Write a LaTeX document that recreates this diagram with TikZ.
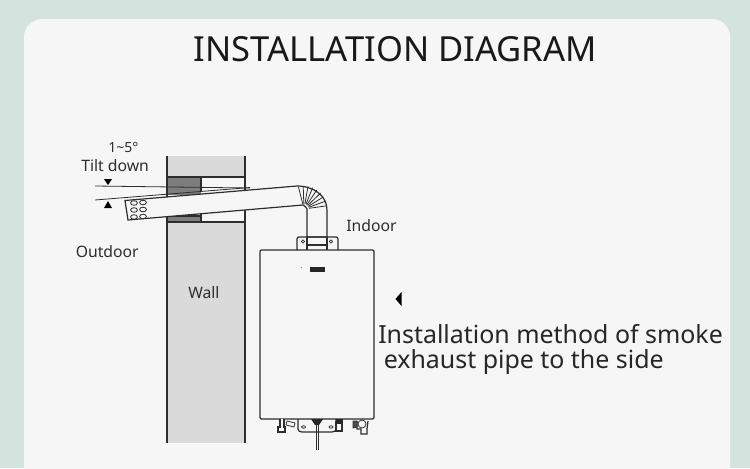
\documentclass[tikz,border=0pt]{standalone}
\usepackage{fontspec}
\setmainfont{Noto Sans}
\definecolor{mintbg}{RGB}{211,228,222}
\definecolor{cardbg}{RGB}{246,246,246}
\definecolor{walllight}{RGB}{218,218,218}
\definecolor{walldark}{RGB}{125,125,125}
\definecolor{inkline}{RGB}{45,45,45}
\tikzset{
	linelabel/.style={anchor=north west,inner sep=0.75pt,text=inkline,font=\fontsize{11.8}{13}\selectfont},
	biglabel/.style={anchor=north west,inner sep=0.75pt,text=black!85,font=\fontsize{18.7}{20}\selectfont},
	part/.style={draw=inkline,line width=0.9pt},
	thinpart/.style={draw=inkline,line width=0.6pt}
}
\begin{document}
\begin{tikzpicture}[x=0.75pt,y=0.75pt,yscale=-1,xscale=1]
	\useasboundingbox (0,0) rectangle (750,468);
	\fill [mintbg] (0,0) rectangle (750,468);
	\fill [cardbg] (24,480) -- (24,37) .. controls (24,27) and (32,19) .. (42,19) -- (712,19) .. controls (722,19) and (730,27) .. (730,37) -- (730,480) -- cycle;
	% wall
	\fill [walllight] (167,156) rectangle (245,177);
	\fill [walllight] (167,222) rectangle (245,443);
	\fill [walldark] (167,177) rectangle (201,195);
	\fill [walldark] (167,216) rectangle (201,222);
	\draw [part] (167,156) -- (167,443) (245,156) -- (245,443);
	\draw [part] (167,177) -- (245,177) (167,222) -- (245,222) (201,177) -- (201,192) (201,214) -- (201,222) (167,216) -- (201,216);
	% tilt lines
	\draw [thinpart] (95,186) -- (250,188);
	\draw [thinpart] (95,200) -- (250,187.5);
	\fill [black] (104,179) -- (112,179) -- (108,185) -- cycle;
	\fill [black] (104,208) -- (112,208) -- (108,201) -- cycle;
	% pipe
	\draw [part,fill=cardbg] (125,200.5) -- (297,186) .. controls (314,186) and (327,196) .. (327,210) -- (327,237) -- (307,237) -- (307,209) .. controls (306,207) and (305,206) .. (303,205) -- (128,220) -- cycle;
	\foreach \a in {8,20,...,104} {
		\draw [thinpart] ({304+5*cos(\a)},{209-5*sin(\a)}) -- ({304+23*cos(\a)},{209-23*sin(\a)});
	}
	\foreach \hx/\hy in {134/203,143/202.5,134/210,143/209.5,134/217,143/216.5} {
		\draw [thinpart] (\hx,\hy) ellipse (3.4 and 2.3);
	}
	% bracket
	\draw [part] (297,250) -- (297,239) .. controls (297,237.5) and (298,237) .. (299,237) -- (336,237) .. controls (337,237) and (338,237.5) .. (338,239) -- (338,250);
	\draw [part] (307,237) -- (307,250) (327,237) -- (327,250) (307,245) -- (327,245);
	\draw [thinpart] (303,241.5) circle (1.6) (331,241.5) circle (1.6);
	% heater
	\draw [part,rounded corners=1pt] (260,250) rectangle (374,419);
	\fill [black!85] (310,267) rectangle (325,272);
	\fill [black!45] (300.5,267) rectangle (301.5,268);
	\fill [black] (401.5,292) -- (401.5,306) -- (395.5,299) -- cycle;
	% fittings
	\draw [part] (298,419) -- (298,429) .. controls (298,431) and (300,432) .. (302,432) -- (332,432) .. controls (334,432) and (336,431) .. (336,429) -- (336,419);
	\draw [thinpart] (303.5,427) ellipse (2 and 1.2) (331,427) ellipse (2 and 1.2);
	\draw [thinpart] (316.5,419) -- (316.5,450) (318.5,419) -- (318.5,450);
	\fill [black!85] (311,419) -- (323,419) -- (319,425) -- (315,425) -- cycle;
	\draw [part,fill=cardbg] (280,419) -- (280,427) -- (278,427) -- (278,432) -- (285,432) -- (285,427) -- (284,427) -- (284,419);
	\draw [thinpart,fill=cardbg] (287,421) -- (295,423) -- (294,427) -- (286,425) -- cycle;
	\draw [part,fill=cardbg] (336,421) -- (336,431) -- (342,431) -- (342,421);
	\fill [black!85] (336,419) rectangle (343,424);
	\draw [part,fill=cardbg] (357,421) -- (357,429) -- (361,429) -- (361,434) -- (367,434) -- (367,429) -- (368,421);
	\draw [thinpart,fill=black!70] (357,421) -- (353,421) -- (353,428) -- (357,427) -- cycle;
	\draw [thinpart,fill=cardbg] (362,424) circle (4);
	% labels
	\node (title) [anchor=north west,inner sep=0.75pt,text=black!90,font=\fontsize{25.9}{28}\selectfont] at (192.5,35.5) {INSTALLATION DIAGRAM};
	\node (tiltangle) [linelabel,font=\fontsize{10.5}{13}\selectfont] at (107,141.5) {1\char"007E 5°};
	\node (tiltdown) [linelabel] at (80,158) {Tilt down};
	\node (outdoor) [linelabel] at (74.5,244) {Outdoor};
	\node (indoor) [linelabel] at (345,218) {Indoor};
	\node (wall) [linelabel] at (187,285) {Wall};
	\node (method) [biglabel] at (377,323) {Installation method of smoke};
	\node (exhaust) [biglabel] at (382.5,348) {exhaust pipe to the side};
\end{tikzpicture}
\end{document}
